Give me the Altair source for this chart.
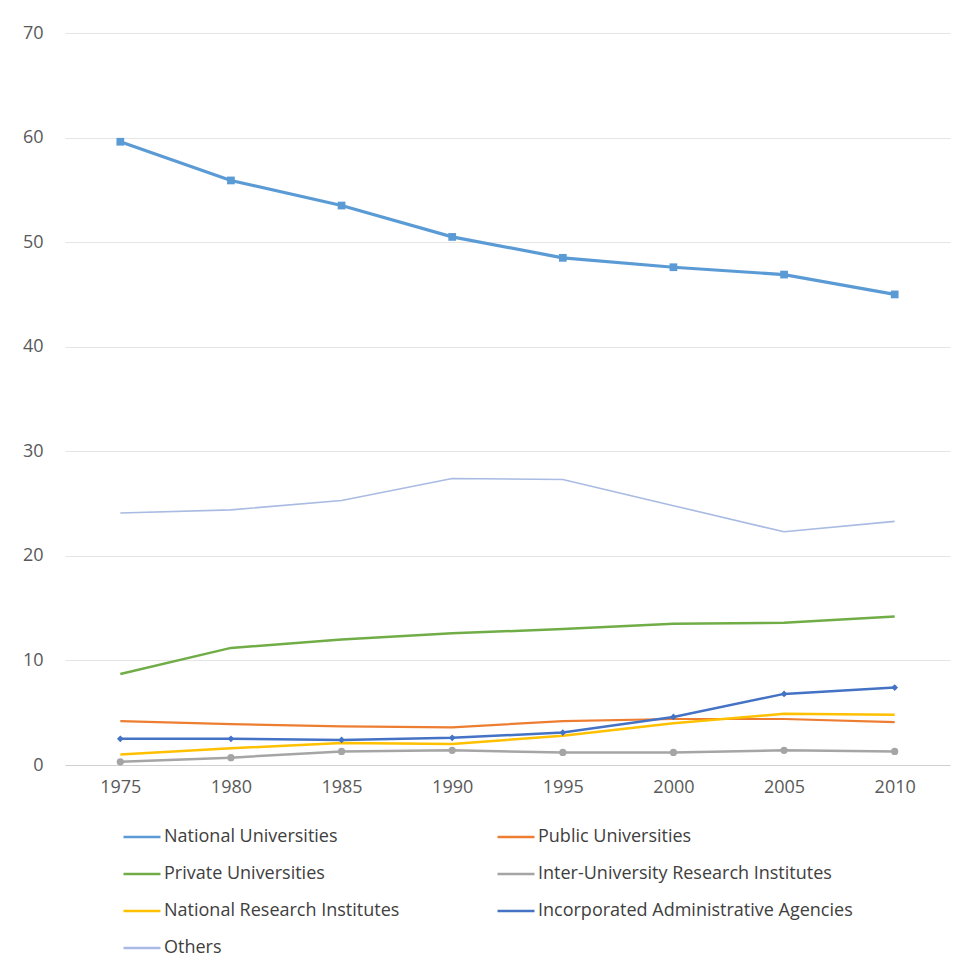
import altair as alt
import pandas as pd

years = [1975, 1980, 1985, 1990, 1995, 2000, 2005, 2010]
series_names = [
    "National Universities",
    "Public Universities",
    "Private Universities",
    "Inter-University Research Institutes",
    "National Research Institutes",
    "Incorporated Administrative Agencies",
    "Others",
]
national = [59.6, 55.9, 53.5, 50.5, 48.5, 47.6, 46.9, 45.0]
public = [4.2, 3.9, 3.7, 3.6, 4.2, 4.4, 4.4, 4.1]
private = [8.7, 11.2, 12.0, 12.6, 13.0, 13.5, 13.6, 14.2]
inter = [0.3, 0.7, 1.3, 1.4, 1.2, 1.2, 1.4, 1.3]
natres = [1.0, 1.6, 2.1, 2.0, 2.8, 4.0, 4.9, 4.8]
incorp = [2.5, 2.5, 2.4, 2.6, 3.1, 4.6, 6.8, 7.4]
others = [24.1, 24.4, 25.3, 27.4, 27.3, 24.8, 22.3, 23.3]
y_ticks = [0, 10, 20, 30, 40, 50, 60, 70]

colors = ["#5B9BD5", "#ED7D31", "#70AD47", "#A5A5A5", "#FFC000", "#4472C4", "#A9BBE2"]
widths = [3.2, 2.2, 2.5, 2.5, 2.5, 2.5, 1.6]
marker_series = ["National Universities", "Inter-University Research Institutes",
                 "Incorporated Administrative Agencies"]
marker_shapes = ["square", "circle", "diamond"]
marker_sizes = [60, 45, 45]

all_vals = [national, public, private, inter, natres, incorp, others]
rows = []
for i, (name, vals) in enumerate(zip(series_names, all_vals)):
    for yr, v in zip(years, vals):
        rows.append({"Year": str(yr), "Series": name, "Value": v,
                     "order": i, "sw": widths[i]})
df = pd.DataFrame(rows)

# legend is filled column by column: left column gets entries 0,2,4,6, right gets 1,3,5
legend_order = [0, 2, 4, 6, 1, 3, 5]
domain = [series_names[i] for i in legend_order]
rng = [colors[i] for i in legend_order]

font = "Open Sans"
color_scale = alt.Scale(domain=domain, range=rng)
x_enc = alt.X("Year:O", scale=alt.Scale(type="point", padding=0.5),
              axis=alt.Axis(title=None, labelAngle=0, ticks=False, domain=True,
                            domainColor="#d0d0d0", domainWidth=1.2, labelPadding=13,
                            labelFontSize=18, labelColor="#595959", labelFont=font, grid=False))
y_enc = alt.Y("Value:Q", scale=alt.Scale(domain=[0, 70], nice=False),
              axis=alt.Axis(title=None, values=y_ticks, ticks=False, domain=False,
                            gridColor="#e4e4e4", labelPadding=22, labelFontSize=18,
                            labelColor="#595959", labelFont=font))

lines = alt.Chart(df).mark_line().encode(
    x=x_enc,
    y=y_enc,
    color=alt.Color("Series:N", scale=color_scale,
                    legend=alt.Legend(title=None, orient="none", legendX=57, legendY=784,
                                      columns=2, symbolType="stroke", symbolSize=1369,
                                      symbolStrokeWidth=2.5, labelFont=font,
                                      labelFontSize=18, labelColor="#404040",
                                      labelOffset=2, rowPadding=8, columnPadding=92,
                                      padding=0, labelLimit=500)),
    strokeWidth=alt.StrokeWidth("sw:Q", scale=None),
    order=alt.Order("order:Q"),
)

pts = alt.Chart(df).transform_filter(
    alt.FieldOneOfPredicate(field="Series", oneOf=marker_series)
).mark_point(filled=True, opacity=1).encode(
    x=alt.X("Year:O", scale=alt.Scale(type="point", padding=0.5)),
    y=alt.Y("Value:Q"),
    color=alt.Color("Series:N", scale=color_scale, legend=None),
    shape=alt.Shape("Series:N", scale=alt.Scale(domain=marker_series, range=marker_shapes), legend=None),
    size=alt.Size("Series:N", scale=alt.Scale(domain=marker_series, range=marker_sizes), legend=None),
)

chart = alt.layer(lines, pts).properties(
    width=885, height=732,
    autosize=alt.AutoSizeParams(type="none"),
    padding={"left": 65, "top": 33, "right": 17, "bottom": 200},
    background="white",
).configure_view(stroke=None)

chart.save("out.html", embed_options={"renderer": "svg", "actions": False})
